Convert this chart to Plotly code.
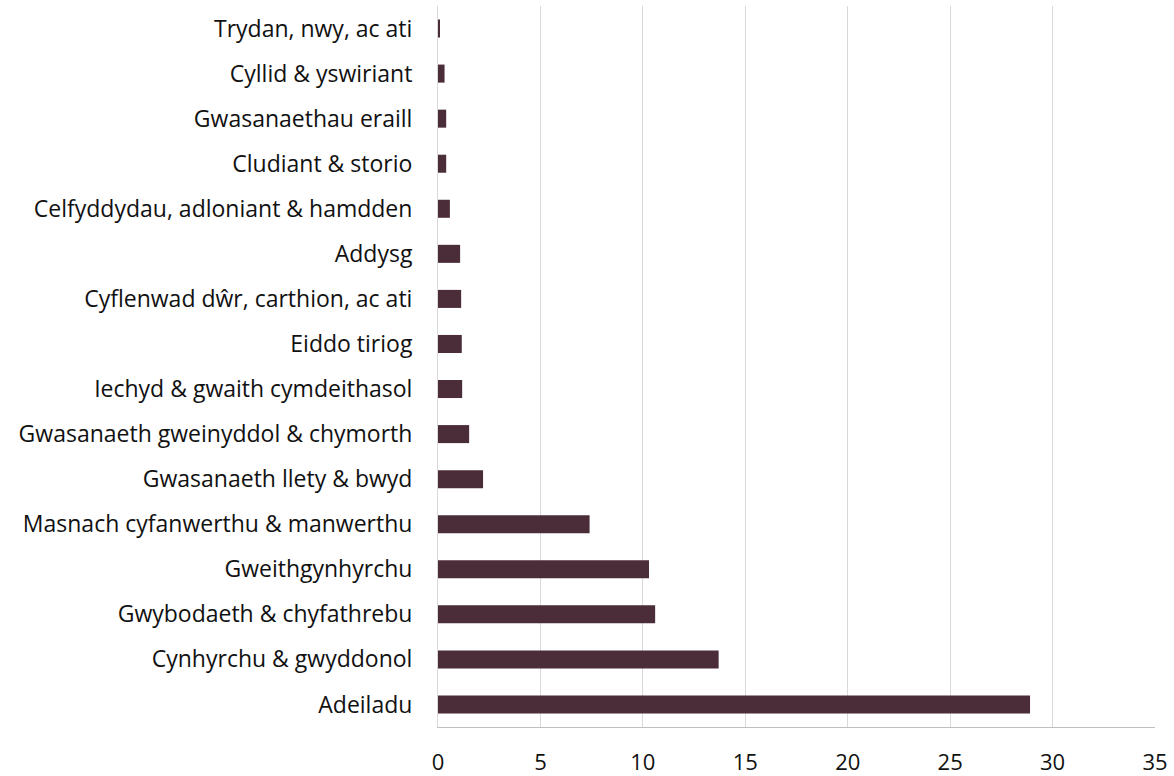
import plotly.graph_objects as go

categories = [
    "Trydan, nwy, ac ati",
    "Cyllid & yswiriant",
    "Gwasanaethau eraill",
    "Cludiant & storio",
    "Celfyddydau, adloniant & hamdden",
    "Addysg",
    "Cyflenwad dŵr, carthion, ac ati",
    "Eiddo tiriog",
    "Iechyd & gwaith cymdeithasol",
    "Gwasanaeth gweinyddol & chymorth",
    "Gwasanaeth llety & bwyd",
    "Masnach cyfanwerthu & manwerthu",
    "Gweithgynhyrchu",
    "Gwybodaeth & chyfathrebu",
    "Cynhyrchu & gwyddonol",
    "Adeiladu",
]
values = [0.05, 0.32, 0.4, 0.4, 0.58, 1.08, 1.13, 1.16, 1.18, 1.52, 2.2,
          7.4, 10.3, 10.6, 13.7, 28.9]
x_ticks = [0, 5, 10, 15, 20, 25, 30, 35]

fig = go.Figure(go.Bar(
    x=values, y=categories, orientation="h",
    marker=dict(color="#4B2D3A", line=dict(width=0)),
))

fig.update_layout(
    width=1174, height=776,
    margin=dict(l=437.5, r=19, t=6, b=49),
    plot_bgcolor="white", paper_bgcolor="white",
    bargap=0.6,
    showlegend=False,
    font=dict(family="Open Sans, sans-serif", size=23, color="#111111"),
)
fig.update_xaxes(
    range=[0, 35], tickvals=x_ticks, showgrid=True, gridcolor="#d9d9d9",
    gridwidth=1, zeroline=False, showline=True, linecolor="#bfbfbf",
    linewidth=1, ticks="", ticklabelstandoff=16,
    tickfont=dict(size=22), automargin=False,
)
fig.update_yaxes(
    autorange="reversed", showgrid=False, zeroline=False, showline=True,
    linecolor="#d9d9d9", linewidth=1, ticks="", ticklabelstandoff=20,
    tickfont=dict(size=23), automargin=False,
)
fig.write_html("out.html", post_script="document.body.style.margin='0';",
               config={"displayModeBar": False})
